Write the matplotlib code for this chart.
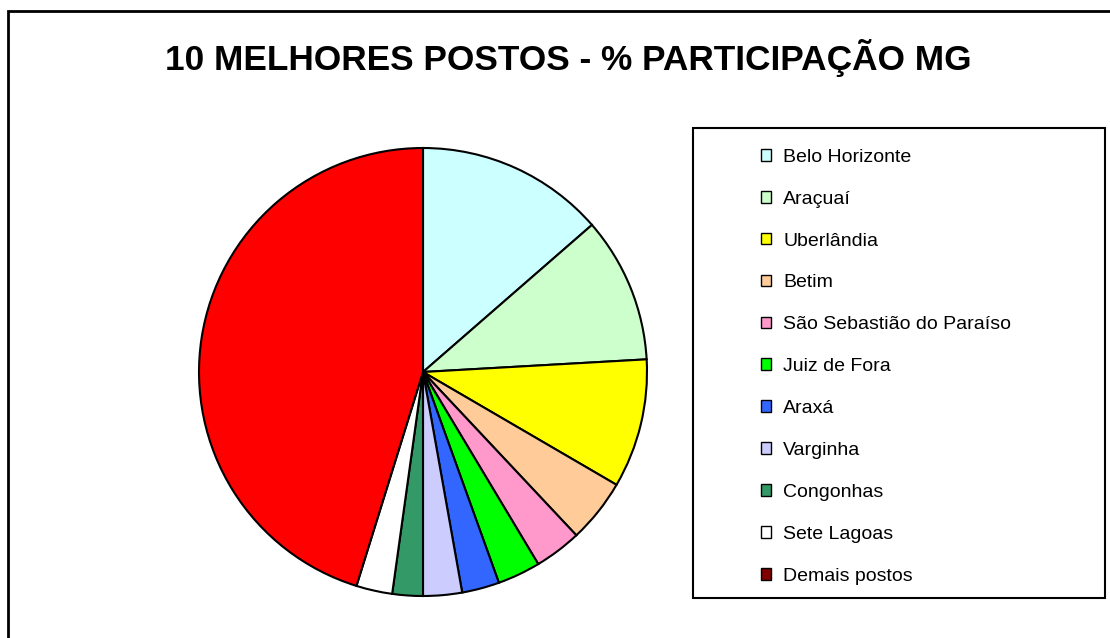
import matplotlib.pyplot as plt
from matplotlib.patches import Rectangle, Patch

plt.rcParams['font.family'] = ['Liberation Sans', 'DejaVu Sans']

# dados
postos = ['Belo Horizonte', 'Araçuaí', 'Uberlândia', 'Betim',
          'São Sebastião do Paraíso', 'Juiz de Fora', 'Araxá', 'Varginha',
          'Congonhas', 'Sete Lagoas', 'Demais postos']
participacao = [13.6, 10.5, 9.3, 4.6, 3.4, 3.1, 2.7, 2.8, 2.2, 2.6, 45.2]
cores = ['#CCFFFF', '#CCFFCC', '#FFFF00', '#FFCC99', '#FF99CC', '#00FF00',
         '#3366FF', '#CCCCFF', '#339966', '#FFFFFF', '#FF0000']
cores_legenda = cores[:-1] + ['#800000']

W, H = 1110, 638
fig = plt.figure(figsize=(W / 100, H / 100), dpi=100)

# moldura externa
fig.patches.append(Rectangle((8 / W, -0.1), 1.2, (H - 11) / H + 0.1,
                             transform=fig.transFigure, fill=False,
                             edgecolor='black', lw=2))

fig.text(568 / W, 1 - 58 / H, '10 MELHORES POSTOS - % PARTICIPAÇÃO MG',
         ha='center', va='center', fontsize=25.4, fontweight='bold')

# pizza
cx, cy, r = 423, 372, 224
ax = fig.add_axes([(cx - r) / W, (H - cy - r) / H, 2 * r / W, 2 * r / H])
ax.pie(participacao, colors=cores, startangle=90, counterclock=False,
       wedgeprops=dict(edgecolor='black', linewidth=1.5))
ax.set_aspect('equal')
ax.set_xlim(-1, 1)
ax.set_ylim(-1, 1)

# caixa da legenda
fig.patches.append(Rectangle((693 / W, 1 - 598 / H), (1105 - 693) / W,
                             (598 - 128) / H, transform=fig.transFigure,
                             fill=False, edgecolor='black', lw=1.5))

handles = [Patch(facecolor=c, edgecolor='black', lw=1) for c in cores_legenda]
leg = fig.legend(handles, postos, loc='upper left',
                 bbox_to_anchor=(751 / W, 1 - 139 / H), frameon=False,
                 fontsize=14, handlelength=0.55, handleheight=0.55,
                 handletextpad=0.6, labelspacing=1.28, borderpad=0)

fig.savefig('out.png', dpi=100, facecolor='white')
